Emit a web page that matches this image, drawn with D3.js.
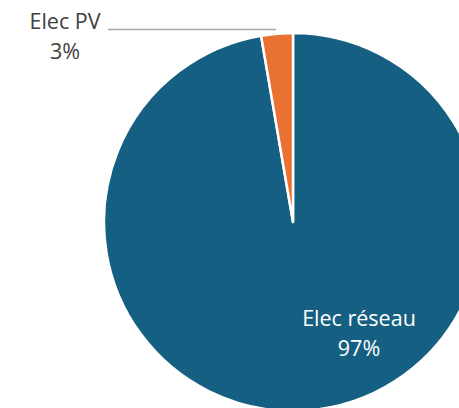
<!DOCTYPE html>
<html>
<head>
<meta charset="utf-8">
<script src="https://cdn.jsdelivr.net/npm/d3@7"></script>
<style>
  html, body { margin: 0; padding: 0; background: #fff; }
  svg { display: block; font-family: "Open Sans", sans-serif; }
</style>
</head>
<body>
<svg class="pie" width="459" height="408"></svg>
<script>
// data
let categories = ["Elec réseau", "Elec PV"];
let values = [97.3, 2.7];
let pctLabels = ["97%", "3%"];
let colors = ["#156082", "#E97132"];

let drawPie = function(){
  let svg = d3.select("body").select(".pie");
  let center = {x: 293, y: 222};
  let radius = 189;

  let rows = categories.map((c, i) => ({name: c, value: values[i], pct: pctLabels[i], color: colors[i]}));

  let pie = d3.pie().sort(null).value(d => d.value);
  let arc = d3.arc().innerRadius(0).outerRadius(radius);
  let arcs = pie(rows);

  let plot = svg.append("g").attr("id", "plot")
    .attr("transform", translate(center.x, center.y));

  plot.selectAll("path")
    .data(arcs)
    .enter().append("path")
      .attr("d", arc)
      .attr("fill", d => d.data.color)
      .attr("stroke", "#fff")
      .attr("stroke-width", 2.5)
      .attr("stroke-linejoin", "round");

  // inside label for the big slice (Excel best-fit puts it lower right)
  let inside = plot.append("text")
    .attr("transform", translate(66, 104))
    .attr("text-anchor", "middle")
    .attr("fill", "#fff")
    .style("font-size", "21.5px");
  inside.append("tspan").attr("x", 0).attr("y", 0).text(arcs[0].data.name);
  inside.append("tspan").attr("x", 0).attr("y", 30).text(arcs[0].data.pct);

  // outside label for the small slice, with leader line
  let a = arcs[1].startAngle;
  let tipX = center.x + Math.sin(a) * radius;
  svg.append("line")
    .attr("x1", 108).attr("y1", 29.5)
    .attr("x2", tipX + 15).attr("y2", 29.5)
    .attr("stroke", "#A6A6A6")
    .attr("stroke-width", 1.5);

  let outside = svg.append("text")
    .attr("transform", translate(65, 29))
    .attr("text-anchor", "middle")
    .attr("fill", "#404040")
    .style("font-size", "21.5px");
  outside.append("tspan").attr("x", 0).attr("y", 0).text(arcs[1].data.name);
  outside.append("tspan").attr("x", 0).attr("y", 30).text(arcs[1].data.pct);
};

function translate(x, y) {
  return 'translate(' + x + ',' + y + ')';
}

drawPie();
</script>
</body>
</html>
